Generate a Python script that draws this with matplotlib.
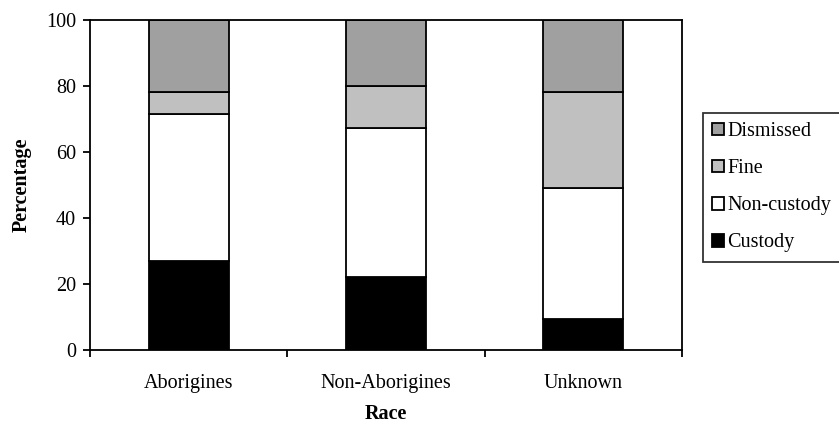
import matplotlib

matplotlib.use("Agg")
import matplotlib.pyplot as plt
import numpy as np

plt.rcParams["font.family"] = ["Liberation Serif", "DejaVu Serif"]

races = ["Aborigines", "Non-Aborigines", "Unknown"]
custody = [27.0, 22.1, 9.4]
non_custody = [44.5, 45.3, 39.8]
fine = [6.8, 12.7, 29.1]
dismissed = [21.7, 19.9, 21.7]

series = [
    ("Custody", custody, "#000000"),
    ("Non-custody", non_custody, "#ffffff"),
    ("Fine", fine, "#c0c0c0"),
    ("Dismissed", dismissed, "#a0a0a0"),
]

fs = 14.5

fig = plt.figure(figsize=(8.39, 4.25), dpi=100)
ax = fig.add_axes([90 / 839, 75 / 425, 592 / 839, 330 / 425])

x = np.arange(len(races))
bottom = np.zeros(len(races))
handles = []
for name, vals, color in series:
    bars = ax.bar(x, vals, width=0.405, bottom=bottom, color=color,
                  edgecolor="black", linewidth=1.3, label=name)
    handles.append(bars)
    bottom += np.array(vals)

ax.set_xlim(-0.5, len(races) - 0.5)
ax.set_ylim(0, 100)
ax.set_yticks(range(0, 101, 20))
ax.set_xticks(x)
ax.set_xticklabels(races, fontsize=fs)
ax.tick_params(axis="x", length=0, pad=17)
# category boundary ticks below the x axis
ax.set_xticks(np.arange(-0.5, len(races), 1.0), minor=True)
ax.tick_params(axis="x", which="minor", length=5, width=1.3, direction="out")
ax.tick_params(axis="y", length=5, width=1.3, direction="out", labelsize=fs,
               pad=5)

for sp in ax.spines.values():
    sp.set_linewidth(1.3)

ax.set_ylabel("Percentage", fontsize=fs, fontweight="bold", labelpad=10)
ax.set_xlabel("Race", fontsize=fs, fontweight="bold", labelpad=8)

leg = fig.legend(handles[::-1], [s[0] for s in series][::-1],
                 loc="upper left", bbox_to_anchor=(703 / 839, 1 - 113 / 425),
                 fontsize=fs, frameon=True, fancybox=False, edgecolor="black",
                 handlelength=0.6, handleheight=0.6, handletextpad=0.15,
                 labelspacing=0.9, borderpad=0.45, borderaxespad=0)
leg.get_frame().set_linewidth(1.3)

plt.savefig("out.png", dpi=100)
